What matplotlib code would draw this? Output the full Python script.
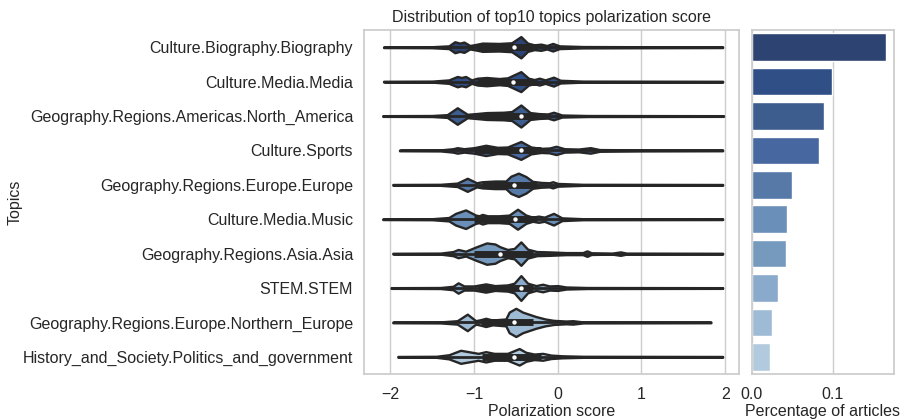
import matplotlib
matplotlib.use("Agg")
import matplotlib.pyplot as plt
import seaborn as sns

# topics, top to bottom
topics = [
    "Culture.Biography.Biography",
    "Culture.Media.Media",
    "Geography.Regions.Americas.North_America",
    "Culture.Sports",
    "Geography.Regions.Europe.Europe",
    "Culture.Media.Music",
    "Geography.Regions.Asia.Asia",
    "STEM.STEM",
    "Geography.Regions.Europe.Northern_Europe",
    "History_and_Society.Politics_and_government",
]

# share of articles per topic
pct_articles = [0.165, 0.099, 0.089, 0.083, 0.050, 0.043, 0.042, 0.0325, 0.0255, 0.023]

# violin outlines: score knots and half widths (row units)
biography_x = [-2.08, -1.5, -1.3, -1.23, -1.17, -1.12, -1.05, -0.98, -0.9, -0.7, -0.55, -0.44, -0.36, -0.28, -0.2, -0.13, -0.06, 0.02, 0.3, 1.0, 1.97]
biography_w = [0.01, 0.015, 0.04, 0.16, 0.12, 0.15, 0.05, 0.08, 0.12, 0.11, 0.13, 0.31, 0.12, 0.07, 0.09, 0.05, 0.11, 0.04, 0.02, 0.015, 0.01]
media_x = [-2.08, -1.5, -1.3, -1.2, -1.15, -1.1, -1.03, -0.96, -0.85, -0.7, -0.6, -0.44, -0.35, -0.28, -0.22, -0.15, -0.05, 0.03, 0.3, 1.97]
media_w = [0.01, 0.015, 0.05, 0.15, 0.12, 0.15, 0.05, 0.1, 0.12, 0.09, 0.11, 0.29, 0.1, 0.06, 0.1, 0.05, 0.13, 0.04, 0.015, 0.01]
north_america_x = [-2.09, -1.5, -1.32, -1.2, -1.08, -0.98, -0.85, -0.65, -0.55, -0.44, -0.33, -0.22, -0.12, -0.05, 0.05, 0.35, 1.98]
north_america_w = [0.01, 0.015, 0.04, 0.24, 0.05, 0.07, 0.1, 0.11, 0.13, 0.32, 0.1, 0.07, 0.06, 0.11, 0.03, 0.015, 0.01]
sports_x = [-1.89, -1.4, -1.25, -1.2, -1.12, -1.0, -0.86, -0.72, -0.6, -0.44, -0.32, -0.2, -0.1, -0.02, 0.08, 0.25, 0.39, 0.5, 1.0, 1.97]
sports_w = [0.01, 0.015, 0.05, 0.08, 0.05, 0.08, 0.15, 0.09, 0.1, 0.26, 0.1, 0.06, 0.07, 0.12, 0.05, 0.04, 0.08, 0.025, 0.015, 0.01]
europe_x = [-1.97, -1.4, -1.2, -1.08, -0.97, -0.9, -0.75, -0.62, -0.56, -0.47, -0.38, -0.3, -0.2, -0.1, -0.06, 0.0, 0.3, 1.97]
europe_w = [0.01, 0.015, 0.05, 0.19, 0.06, 0.09, 0.11, 0.11, 0.25, 0.34, 0.24, 0.1, 0.07, 0.06, 0.09, 0.04, 0.015, 0.01]
music_x = [-2.09, -1.5, -1.3, -1.22, -1.1, -0.98, -0.94, -0.9, -0.84, -0.7, -0.58, -0.48, -0.38, -0.3, -0.23, -0.16, -0.05, 0.05, 0.3, 1.97]
music_w = [0.01, 0.015, 0.05, 0.17, 0.27, 0.12, 0.1, 0.14, 0.1, 0.1, 0.12, 0.29, 0.12, 0.06, 0.09, 0.06, 0.17, 0.04, 0.015, 0.01]
asia_x = [-1.97, -1.4, -1.25, -1.19, -1.1, -0.97, -0.85, -0.75, -0.69, -0.6, -0.52, -0.44, -0.36, -0.25, -0.1, 0.1, 0.3, 0.35, 0.4, 0.65, 0.75, 0.82, 1.97]
asia_w = [0.01, 0.015, 0.06, 0.12, 0.07, 0.2, 0.31, 0.28, 0.2, 0.12, 0.15, 0.34, 0.13, 0.06, 0.05, 0.03, 0.03, 0.08, 0.025, 0.015, 0.05, 0.015, 0.01]
stem_x = [-1.99, -1.4, -1.25, -1.19, -1.12, -1.0, -0.86, -0.75, -0.6, -0.52, -0.44, -0.36, -0.26, -0.18, -0.1, 0.0, 0.1, 0.35, 1.97]
stem_w = [0.01, 0.015, 0.05, 0.15, 0.06, 0.06, 0.12, 0.07, 0.09, 0.14, 0.36, 0.14, 0.07, 0.11, 0.06, 0.07, 0.03, 0.015, 0.01]
north_europe_x = [-1.97, -1.4, -1.2, -1.08, -0.98, -0.92, -0.86, -0.78, -0.62, -0.58, -0.5, -0.42, -0.26, -0.15, -0.05, 0.1, 0.18, 0.3, 1.83]
north_europe_w = [0.01, 0.015, 0.05, 0.24, 0.05, 0.08, 0.12, 0.07, 0.1, 0.3, 0.41, 0.3, 0.17, 0.1, 0.06, 0.04, 0.05, 0.015, 0.01]
politics_x = [-1.91, -1.45, -1.3, -1.16, -1.02, -0.95, -0.86, -0.76, -0.6, -0.52, -0.46, -0.38, -0.28, -0.18, -0.08, 0.05, 0.3, 1.97]
politics_w = [0.01, 0.015, 0.06, 0.19, 0.13, 0.1, 0.15, 0.1, 0.1, 0.18, 0.24, 0.13, 0.08, 0.1, 0.05, 0.03, 0.015, 0.01]

violin_x = [biography_x, media_x, north_america_x, sports_x, europe_x,
            music_x, asia_x, stem_x, north_europe_x, politics_x]
violin_w = [biography_w, media_w, north_america_w, sports_w, europe_w,
            music_w, asia_w, stem_w, north_europe_w, politics_w]

# inner box: quartiles and median
q1 = [-0.97, -0.96, -0.95, -1.0, -0.9, -1.0, -1.0, -0.95, -0.92, -0.9]
median = [-0.52, -0.53, -0.44, -0.44, -0.52, -0.51, -0.69, -0.44, -0.52, -0.52]
q3 = [-0.25, -0.25, -0.25, -0.2, -0.25, -0.25, -0.3, -0.3, -0.29, -0.2]

# dark navy to light blue, as in the picture
colors = ['#2d4371', '#304f87', '#3d5d8f', '#4667a0', '#5679a8',
          '#6a8fb8', '#769abe', '#8aaacb', '#9ebbd6', '#b2cade']

sns.set_theme(style="whitegrid")
plt.rcParams['font.family'] = ['Liberation Sans', 'DejaVu Sans']

edge = '#262626'
fs = 11.5

fig = plt.figure(figsize=(9.07, 4.2), dpi=100)
ax1 = fig.add_axes([0.4017, 0.1095, 0.4135, 0.819])
ax2 = fig.add_axes([0.8288, 0.1095, 0.1568, 0.819])

# violins
for i in range(len(topics)):
    xs = violin_x[i]
    ws = violin_w[i]
    lo = [i - w for w in ws]
    hi = [i + w for w in ws]
    ax1.fill_between(xs, lo, hi, facecolor=colors[i], edgecolor=edge, linewidth=1.7, zorder=2)
    ax1.hlines(i, xs[0], xs[-1], color=edge, linewidth=2.0, zorder=3)
    ax1.hlines(i, q1[i], q3[i], color=edge, linewidth=5, zorder=3)
    ax1.scatter(median[i], i, s=10, color='white', zorder=4, linewidths=0)

ax1.set_yticks(range(len(topics)))
ax1.set_yticklabels(topics, fontsize=fs)
ax1.tick_params(axis='y', pad=2)
ax1.set_ylim(len(topics) - 0.5, -0.5)
ax1.set_xlim(-2.31, 2.17)
ax1.set_xticks([-2, -1, 0, 1, 2])
ax1.tick_params(axis='x', labelsize=fs)
ax1.yaxis.grid(False)
ax1.set_xlabel('Polarization score', fontsize=fs, labelpad=1)
ax1.set_ylabel('Topics', fontsize=fs, labelpad=0.5)
ax1.set_title('Distribution of top10 topics polarization score', fontsize=fs)

# bars
ax2.barh(range(len(topics)), pct_articles, height=0.8, color=colors, zorder=2)
ax2.set_ylim(len(topics) - 0.5, -0.5)
ax2.set_yticks(range(len(topics)))
ax2.set_yticklabels([])
ax2.yaxis.grid(False)
ax2.set_xlim(0, 0.175)
ax2.set_xticks([0.0, 0.1])
ax2.set_xticklabels(['0.0', '0.1'])
ax2.tick_params(axis='x', labelsize=fs)
ax2.set_xlabel('Percentage of articles', fontsize=fs, labelpad=1)

fig.savefig('out.png', dpi=100)
